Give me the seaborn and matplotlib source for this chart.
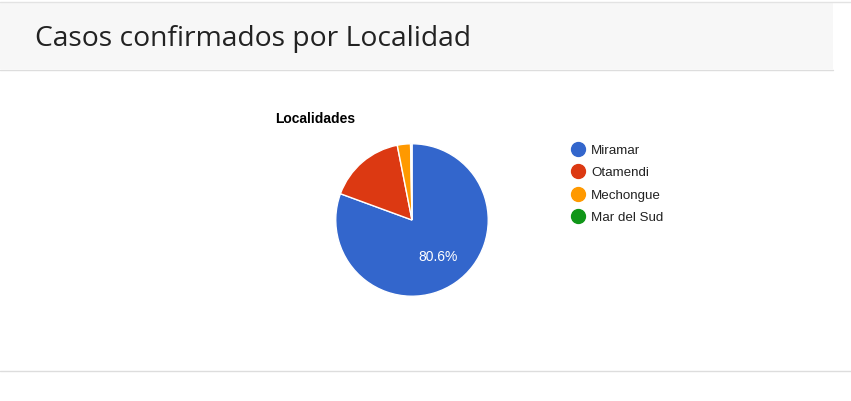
import matplotlib
matplotlib.use('Agg')
import matplotlib.pyplot as plt
import seaborn as sns
from matplotlib.patches import Rectangle
from matplotlib.lines import Line2D

# Data
localidades = ['Miramar', 'Otamendi', 'Mechongue', 'Mar del Sud']
porcentajes = [80.6, 16.3, 2.8, 0.3]
titulo_panel = 'Casos confirmados por Localidad'
titulo_grafico = 'Localidades'

sns.set_style('white')
plt.rcParams['font.family'] = ['Liberation Sans', 'DejaVu Sans']
colores = sns.color_palette(['#3366cc', '#dc3912', '#ff9900', '#109618'])

W, H = 851, 401
fig = plt.figure(figsize=(W / 100, H / 100), dpi=100)
fig.patch.set_facecolor('white')

def fx(px):
    return px / W

def fy(py):
    return 1 - py / H

# panel header
fig.add_artist(Rectangle((0, fy(69)), fx(833), fy(3) - fy(69),
                         transform=fig.transFigure, facecolor='#f7f7f7',
                         edgecolor='none', zorder=0))
fig.add_artist(Line2D([0, 1], [fy(2), fy(2)], transform=fig.transFigure,
                      color='#e3e3e3', lw=1))
fig.add_artist(Line2D([0, fx(833)], [fy(69.5), fy(69.5)], transform=fig.transFigure,
                      color='#dddddd', lw=1))
fig.add_artist(Line2D([0, 1], [fy(370.5), fy(370.5)], transform=fig.transFigure,
                      color='#dddddd', lw=1))
fig.text(fx(35), fy(39), titulo_panel, fontsize=20.3, color='#222222',
         family=['Open Sans', 'DejaVu Sans'], va='center', ha='left')

# chart title
fig.text(fx(275), fy(119), titulo_grafico, fontsize=10, fontweight='bold',
         color='black', va='center', ha='left')

# pie
cx, cy, r = 412, 220, 77
ax = fig.add_axes([fx(cx - r), fy(cy + r), (2 * r) / W, (2 * r) / H])
wedges, texts, autotexts = ax.pie(
    porcentajes, colors=colores, startangle=90, counterclock=False,
    autopct=lambda p: f'{p:.1f}%' if p > 20 else '', pctdistance=0.59,
    wedgeprops=dict(edgecolor='white', linewidth=1), radius=1.0,
    textprops=dict(color='white', fontsize=10))
ax.set_xlim(-1.01, 1.01)
ax.set_ylim(-1.01, 1.01)
ax.axis('off')

# legend
for i, (nombre, col) in enumerate(zip(localidades, colores)):
    y = 149 + i * 22.5
    fig.add_artist(Line2D([fx(578)], [fy(y)], marker='o', markersize=10,
                          color=col, transform=fig.transFigure, lw=0))
    fig.text(fx(591), fy(y + 1.5), nombre, fontsize=9.6, color='#222222',
             va='center', ha='left')

fig.savefig('out.png', dpi=100)
